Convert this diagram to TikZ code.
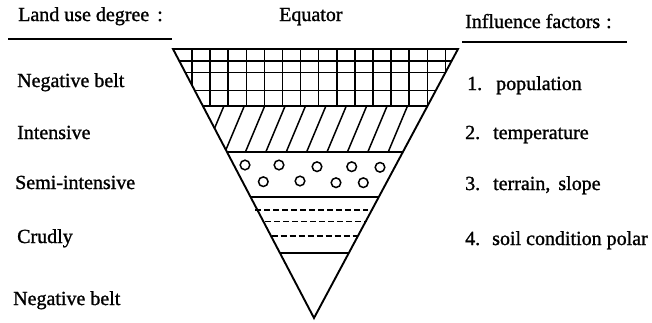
\documentclass[tikz,border=0pt]{standalone}
\usepackage{fontspec}
\setmainfont{Liberation Serif}[BoldFont=Liberation Serif,BoldFeatures={FakeBold=1.2}]
\usetikzlibrary{calc}
\begin{document}
\begin{tikzpicture}[x=1pt,y=-1pt,
  lab/.style={anchor=base west,inner sep=0pt,font=\fontsize{20}{24}\selectfont\bfseries},
  edge/.style={line width=1.9pt,line join=miter},
  rule/.style={line width=1.9pt},
  gridline/.style={line width=1.5pt},
  hatchline/.style={line width=1.5pt},
  dot/.style={line width=1.5pt},
  dashline/.style={line width=1.5pt,dash pattern=on 6pt off 3pt}]
\useasboundingbox (0,0) rectangle (652,322);
% triangle corners
\coordinate (TL) at (173,49);
\coordinate (TR) at (458,49);
\coordinate (AP) at (314,318);
% band boundaries
\coordinate (L1) at ($(TL)!0.2119!(AP)$);
\coordinate (R1) at ($(TR)!0.2119!(AP)$);
\coordinate (L2) at ($(TL)!0.3829!(AP)$);
\coordinate (R2) at ($(TR)!0.3829!(AP)$);
\coordinate (L3) at ($(TL)!0.5502!(AP)$);
\coordinate (R3) at ($(TR)!0.5502!(AP)$);
\coordinate (L4) at ($(TL)!0.7584!(AP)$);
\coordinate (R4) at ($(TR)!0.7584!(AP)$);
% grid band
\begin{scope}
  \clip (TL) -- (TR) -- (R1) -- (L1) -- cycle;
  \foreach \k in {0,...,14} \draw[gridline] ({192+18.1*\k},40) -- ({192+18.1*\k},112);
  \foreach \yy in {61,72.5,90.5} \draw[gridline] (160,\yy) -- (470,\yy);
\end{scope}
% hatched band
\begin{scope}
  \clip (L1) -- (R1) -- (R2) -- (L2) -- cycle;
  \foreach \k in {-2,...,10} \draw[hatchline] ({225+20.4*\k-2.1},157) -- ({225+20.4*\k+21.4},101);
\end{scope}
% circles band
\foreach \p in {(245,165),(279,165),(317,166.7),(351.7,166.7),(380,167.3),(263.3,181.7),(300,181),(336,182.7),(363.3,182.7)}
  \draw[dot] \p circle[radius=4.8];
% dashed band
\draw[dashline] (255,210) -- (368,210);
\draw[dashline] (265,221.7) -- (366.7,221.7);
\draw[dashline] (271.7,236) -- (356.7,236);
% outlines
\draw[edge] (L1) -- (R1);
\draw[edge] (L2) -- (R2);
\draw[edge] (L3) -- (R3);
\draw[edge] (L4) -- (R4);
\draw[edge] (TL) -- (TR) -- (AP) -- cycle;
% headers
\node[lab] (hleft) at (18,21) {Land use degree\hspace{0.4em}:};
\node[lab] (heq) at (279,21) {Equator};
\node[lab] (hright) at (465,28) {Influence factors\hspace{0.3em}:};
\draw[rule] (8,39) -- (172,39);
\draw[rule] (462,42) -- (627,42);
% left labels
\node[lab] (l1) at (17,87) {Negative belt};
\node[lab] (l2) at (17,139) {Intensive};
\node[lab] (l3) at (15,189) {Semi-intensive};
\node[lab] (l4) at (17,243) {Crudly};
\node[lab] (l5) at (13,305) {Negative belt};
% right labels
\node[lab] (r1) at (467,90) {1.\hspace{0.7em}population};
\node[lab] (r2) at (465,139) {2.\hspace{0.65em}temperature};
\node[lab] (r3) at (465,190) {3.\hspace{0.65em}terrain,\hspace{0.4em}slope};
\node[lab] (r4) at (465,245) {4.\hspace{0.6em}soil condition polar};
\end{tikzpicture}
\end{document}
